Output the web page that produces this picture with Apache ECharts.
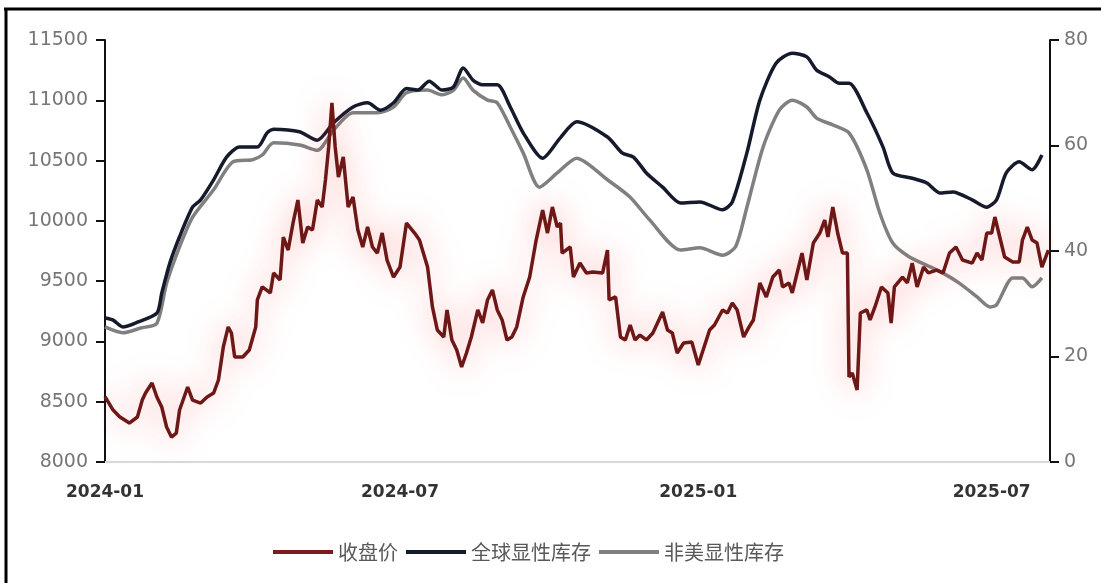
<!DOCTYPE html>
<html>
<head>
<meta charset="utf-8">
<script src="https://cdn.jsdelivr.net/npm/echarts@6/dist/echarts.min.js"></script>
<style>
html,body{margin:0;padding:0;background:#fff;}
#chart{width:1101px;height:583px;}
</style>
</head>
<body>
<div id="chart"></div>
<script>
// ---- data ----
const seriesNames = ['收盘价', '全球显性库存', '非美显性库存'];
const xTickLabels = ['2024-01', '2024-07', '2025-01', '2025-07'];
const leftTicks = [8000, 8500, 9000, 9500, 10000, 10500, 11000, 11500];
const rightTicks = [0, 20, 40, 60, 80];

const priceDates = ['2024-01-01','2024-01-06','2024-01-10','2024-01-16','2024-01-21','2024-01-24','2024-01-26','2024-01-30','2024-02-02','2024-02-05','2024-02-08','2024-02-11','2024-02-14','2024-02-16','2024-02-21','2024-02-24','2024-02-29','2024-03-04','2024-03-08','2024-03-11','2024-03-14','2024-03-17','2024-03-19','2024-03-21','2024-03-26','2024-03-30','2024-04-03','2024-04-04','2024-04-07','2024-04-12','2024-04-14','2024-04-18','2024-04-20','2024-04-23','2024-04-26','2024-04-29','2024-05-02','2024-05-05','2024-05-08','2024-05-11','2024-05-14','2024-05-16','2024-05-18','2024-05-20','2024-05-22','2024-05-24','2024-05-27','2024-05-30','2024-06-02','2024-06-05','2024-06-08','2024-06-11','2024-06-14','2024-06-17','2024-06-20','2024-06-23','2024-06-27','2024-07-01','2024-07-05','2024-07-10','2024-07-13','2024-07-18','2024-07-21','2024-07-24','2024-07-28','2024-07-30','2024-08-02','2024-08-05','2024-08-08','2024-08-11','2024-08-14','2024-08-18','2024-08-21','2024-08-24','2024-08-27','2024-08-30','2024-09-02','2024-09-05','2024-09-08','2024-09-11','2024-09-15','2024-09-19','2024-09-23','2024-09-27','2024-09-30','2024-10-03','2024-10-06','2024-10-08','2024-10-09','2024-10-14','2024-10-16','2024-10-20','2024-10-24','2024-10-28','2024-11-03','2024-11-06','2024-11-07','2024-11-11','2024-11-14','2024-11-17','2024-11-20','2024-11-23','2024-11-26','2024-11-30','2024-12-04','2024-12-10','2024-12-13','2024-12-16','2024-12-19','2024-12-23','2024-12-28','2025-01-01','2025-01-04','2025-01-08','2025-01-11','2025-01-16','2025-01-19','2025-01-22','2025-01-25','2025-01-29','2025-02-01','2025-02-04','2025-02-08','2025-02-12','2025-02-16','2025-02-20','2025-02-22','2025-02-26','2025-02-28','2025-03-06','2025-03-09','2025-03-13','2025-03-17','2025-03-20','2025-03-22','2025-03-25','2025-03-28','2025-03-31','2025-04-03','2025-04-04','2025-04-06','2025-04-09','2025-04-11','2025-04-15','2025-04-17','2025-04-20','2025-04-24','2025-04-28','2025-04-30','2025-05-02','2025-05-07','2025-05-10','2025-05-13','2025-05-16','2025-05-20','2025-05-23','2025-05-28','2025-06-01','2025-06-05','2025-06-09','2025-06-13','2025-06-19','2025-06-22','2025-06-25','2025-06-28','2025-07-01','2025-07-03','2025-07-06','2025-07-09','2025-07-14','2025-07-18','2025-07-20','2025-07-23','2025-07-26','2025-07-29','2025-08-01','2025-08-05'];
const priceValues = [8542,8431,8376,8323,8373,8514,8572,8655,8539,8456,8290,8207,8240,8431,8622,8514,8489,8539,8572,8680,8954,9120,9070,8871,8871,8929,9120,9344,9452,9402,9568,9510,9866,9758,9982,10173,9816,9949,9924,10173,10115,10339,10613,10978,10613,10364,10530,10115,10198,9924,9783,9949,9783,9733,9899,9675,9534,9617,9982,9899,9841,9617,9286,9095,9037,9261,9012,8929,8788,8904,9037,9261,9153,9344,9427,9261,9178,9012,9037,9120,9369,9534,9841,10090,9899,10115,9949,9982,9733,9783,9534,9650,9568,9576,9568,9758,9344,9369,9037,9012,9136,9012,9053,9012,9070,9244,9095,9070,8904,8987,8995,8805,8929,9095,9136,9261,9236,9319,9261,9037,9112,9178,9485,9369,9534,9592,9452,9485,9402,9733,9510,9816,9899,10007,9866,10115,9899,9733,9733,8705,8738,8597,9236,9261,9178,9286,9452,9402,9153,9452,9534,9485,9650,9452,9617,9568,9592,9568,9733,9783,9675,9650,9733,9675,9899,9899,10032,9866,9700,9659,9659,9841,9949,9841,9816,9617,9758];

const globalDates = ['2024-01-01','2024-01-06','2024-01-12','2024-01-21','2024-02-02','2024-02-05','2024-02-10','2024-02-16','2024-02-24','2024-02-29','2024-03-08','2024-03-16','2024-03-24','2024-04-04','2024-04-10','2024-04-14','2024-04-30','2024-05-11','2024-05-21','2024-06-02','2024-06-11','2024-06-19','2024-06-27','2024-07-05','2024-07-12','2024-07-19','2024-07-27','2024-08-03','2024-08-09','2024-08-15','2024-08-21','2024-08-30','2024-09-07','2024-09-15','2024-09-27','2024-10-08','2024-10-18','2024-11-06','2024-11-15','2024-11-22','2024-11-30','2024-12-10','2024-12-21','2025-01-02','2025-01-16','2025-01-22','2025-01-31','2025-02-08','2025-02-18','2025-02-28','2025-03-09','2025-03-15','2025-03-23','2025-03-29','2025-04-04','2025-04-15','2025-04-25','2025-05-01','2025-05-13','2025-05-22','2025-05-30','2025-06-07','2025-06-19','2025-06-28','2025-07-04','2025-07-10','2025-07-18','2025-07-26','2025-08-01'];
const globalValues = [27.3,26.9,25.6,26.5,28.2,32.0,37.7,42.7,48.3,49.7,53.5,57.8,59.7,59.7,62.4,63.1,62.6,61.0,64.3,67.3,68.1,66.7,68.1,70.8,70.5,72.2,70.5,71.1,74.7,72.4,71.5,71.5,67.3,62.4,57.6,61.5,64.5,61.6,58.6,57.8,54.8,52.1,49.1,49.3,47.8,49.3,58.6,68.6,75.6,77.5,76.8,74.3,73.0,71.8,71.8,66.2,59.7,54.8,53.8,52.9,51.0,51.2,49.7,48.3,49.7,54.8,56.9,55.4,58.2];

const nonUsDates = ['2024-01-01','2024-01-12','2024-01-23','2024-02-02','2024-02-08','2024-02-16','2024-02-24','2024-03-08','2024-03-20','2024-04-01','2024-04-07','2024-04-14','2024-04-30','2024-05-11','2024-05-21','2024-06-02','2024-06-17','2024-06-27','2024-07-05','2024-07-18','2024-07-27','2024-08-03','2024-08-09','2024-08-15','2024-08-24','2024-08-30','2024-09-07','2024-09-15','2024-09-25','2024-10-06','2024-10-18','2024-11-06','2024-11-20','2024-12-02','2024-12-21','2025-01-02','2025-01-16','2025-01-24','2025-01-31','2025-02-10','2025-02-20','2025-02-28','2025-03-09','2025-03-15','2025-03-25','2025-04-04','2025-04-15','2025-04-23','2025-05-01','2025-05-11','2025-05-22','2025-06-01','2025-06-11','2025-06-22','2025-06-30','2025-07-04','2025-07-14','2025-07-20','2025-07-26','2025-08-01'];
const nonUsValues = [25.6,24.5,25.4,26.3,33.9,40.8,46.4,51.6,56.9,57.3,58.2,60.5,60.1,59.1,62.9,66.2,66.2,67.3,70.0,70.5,69.6,70.5,72.8,70.5,68.6,68.1,63.5,58.6,52.1,54.8,57.6,53.5,50.2,45.9,40.2,40.6,39.2,40.8,48.3,59.7,66.7,68.6,67.3,65.2,63.9,62.4,55.4,47.2,41.5,38.9,37.3,35.8,33.9,31.3,29.4,29.8,34.9,34.9,33.2,34.9];

// ---- chart ----
const zip = (d, v) => d.map((x, i) => [x, v[i]]);
const DAY = 24 * 3600 * 1000;

const chart = echarts.init(document.getElementById('chart'));
const fontFamily = 'DejaVu Sans, sans-serif';

function monthLabel(val) {
  const d = new Date(val);
  const m = d.getMonth() + 1;
  const s = d.getFullYear() + '-' + (m < 10 ? '0' + m : m);
  return xTickLabels.indexOf(s) >= 0 && d.getDate() === 1 ? s : '';
}

chart.setOption({
  backgroundColor: '#ffffff',
  animation: false,
  textStyle: { fontFamily: fontFamily },
  grid: { left: 105, right: 51, top: 40, bottom: 121, containLabel: false },
  legend: {
    data: seriesNames,
    left: 268,
    top: 537,
    icon: 'rect',
    itemWidth: 60,
    itemHeight: 4,
    itemGap: 8,
    textStyle: { fontSize: 20, color: '#595959', fontFamily: 'Noto Sans CJK SC' }
  },
  xAxis: {
    type: 'time',
    min: '2024-01-01',
    max: '2025-08-06',
    minInterval: 28 * DAY,
    maxInterval: 31 * DAY,
    axisLine: { show: true, lineStyle: { color: '#d9d9d9', width: 2 } },
    axisTick: { show: false },
    splitLine: { show: false },
    axisLabel: {
      formatter: monthLabel,
      color: '#333333',
      fontSize: 17,
      fontWeight: 'bold',
      margin: 22,
      hideOverlap: false,
      showMinLabel: true,
      showMaxLabel: false
    }
  },
  yAxis: [
    {
      type: 'value',
      min: leftTicks[0],
      max: leftTicks[leftTicks.length - 1],
      interval: 500,
      position: 'left',
      axisLine: { show: true, lineStyle: { color: '#111', width: 2 } },
      axisTick: { show: true, length: 9, lineStyle: { color: '#111', width: 2 } },
      splitLine: { show: false },
      axisLabel: { color: '#767676', fontSize: 19, margin: 17, formatter: v => String(v) }
    },
    {
      type: 'value',
      min: rightTicks[0],
      max: rightTicks[rightTicks.length - 1],
      interval: 20,
      position: 'right',
      axisLine: { show: true, lineStyle: { color: '#111', width: 2 } },
      axisTick: { show: true, length: 9, lineStyle: { color: '#111', width: 2 } },
      splitLine: { show: false },
      axisLabel: { color: '#767676', fontSize: 19, margin: 14, formatter: v => String(v) }
    }
  ],
  series: [
    {
      name: seriesNames[2],
      type: 'line',
      yAxisIndex: 1,
      data: zip(nonUsDates, nonUsValues),
      symbol: 'none',
      smooth: 0.25,
      lineStyle: { color: '#808080', width: 3.5 },
      itemStyle: { color: '#808080' },
      z: 2
    },
    {
      name: seriesNames[1],
      type: 'line',
      yAxisIndex: 1,
      data: zip(globalDates, globalValues),
      symbol: 'none',
      smooth: 0.25,
      lineStyle: { color: '#161b2c', width: 3.5 },
      itemStyle: { color: '#161b2c' },
      z: 3
    },
    {
      name: seriesNames[0],
      type: 'line',
      yAxisIndex: 0,
      data: zip(priceDates, priceValues),
      symbol: 'none',
      lineStyle: { color: '#6e1717', width: 3.5, shadowColor: 'rgba(255,50,50,0.5)', shadowBlur: 30 },
      itemStyle: { color: '#7a1c1c' },
      z: 4
    }
  ],
  graphic: [
    { type: 'line', shape: { x1: 4, y1: 9, x2: 1101, y2: 9 }, style: { stroke: '#000', lineWidth: 3 } },
    { type: 'line', shape: { x1: 6, y1: 8, x2: 6, y2: 583 }, style: { stroke: '#000', lineWidth: 3 } }
  ]
});
</script>
</body>
</html>
